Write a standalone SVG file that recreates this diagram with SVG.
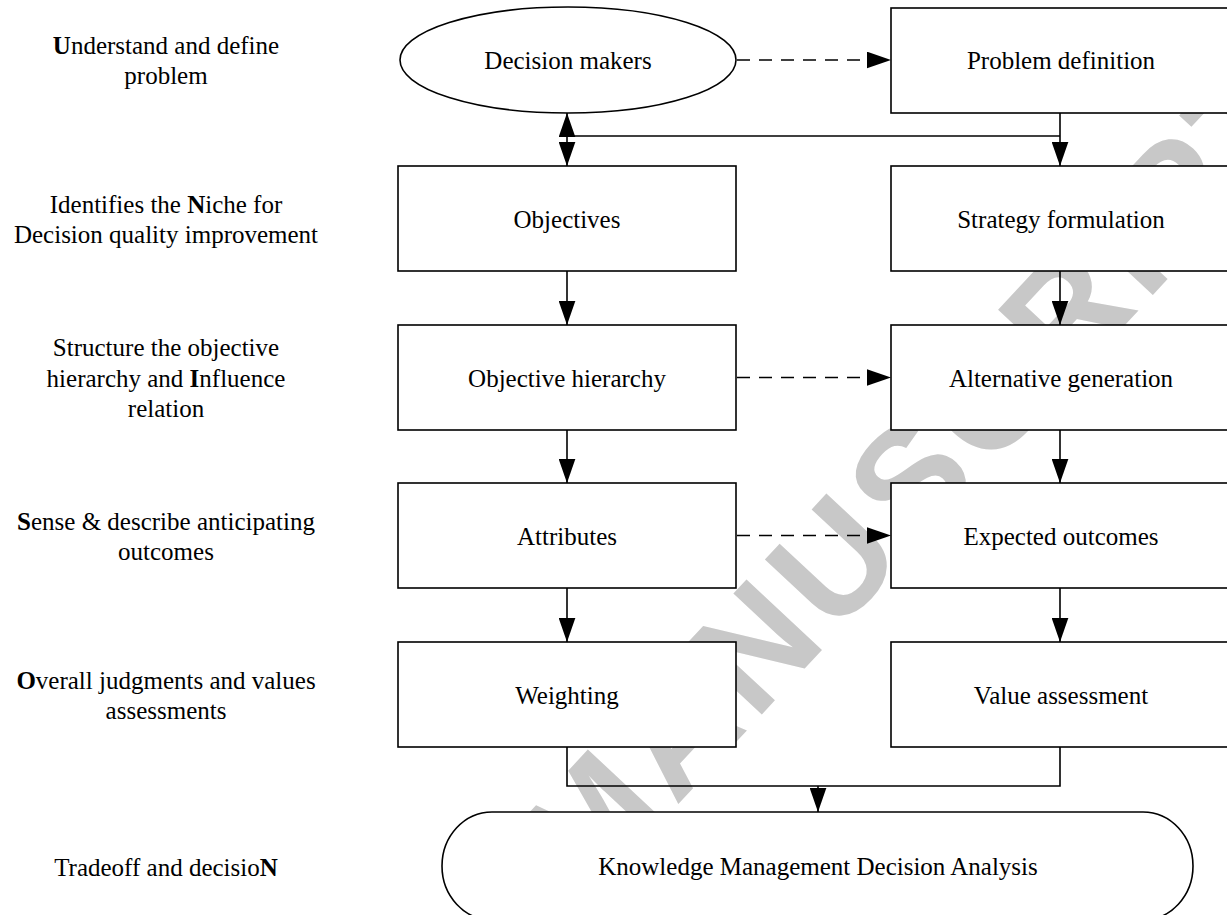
<svg xmlns="http://www.w3.org/2000/svg" width="1227" height="915" viewBox="0 0 1227 915">
<style>
.bg{fill:#ffffff}
.wm{fill:#c8c8c8;font-family:"Liberation Sans",Arial,sans-serif;font-weight:bold;font-size:150px;letter-spacing:8px}
.shape{fill:#ffffff;stroke:#000000;stroke-width:1.6}
.t{font-family:"Liberation Serif","Times New Roman",serif;font-size:25px;fill:#000000;text-anchor:middle}
.b{font-weight:bold}
.ln{fill:none;stroke:#000000;stroke-width:1.6}
.dash{stroke-dasharray:13 9}
</style>
<defs>
<marker id="ah" markerUnits="userSpaceOnUse" markerWidth="24" markerHeight="17" viewBox="0 0 23 16" refX="23" refY="8" orient="auto-start-reverse">
<path d="M0,0 L23,8 L0,16 Z" fill="#000000"/>
</marker>
</defs>
<rect class="bg" x="0" y="0" width="1227" height="915"/>
<text class="wm" transform="translate(585,904) rotate(-47)">MANUSCRIPT</text>

<g id="labels">
<text class="t" x="166" y="54"><tspan class="b">U</tspan>nderstand and define</text>
<text class="t" x="166" y="84">problem</text>
<text class="t" x="166" y="213">Identifies the <tspan class="b">N</tspan>iche for</text>
<text class="t" x="166" y="243">Decision quality improvement</text>
<text class="t" x="166" y="356">Structure the objective</text>
<text class="t" x="166" y="386.5">hierarchy and <tspan class="b">I</tspan>nfluence</text>
<text class="t" x="166" y="417">relation</text>
<text class="t" x="166" y="530"><tspan class="b">S</tspan>ense &amp; describe anticipating</text>
<text class="t" x="166" y="560">outcomes</text>
<text class="t" x="166" y="689"><tspan class="b">O</tspan>verall judgments and values</text>
<text class="t" x="166" y="719">assessments</text>
<text class="t" x="166" y="876">Tradeoff and decisio<tspan class="b">N</tspan></text>
</g>

<g id="connectors">
<line class="ln dash" x1="737" y1="60" x2="891" y2="60" marker-end="url(#ah)"/>
<line class="ln" x1="567" y1="113" x2="567" y2="166" marker-start="url(#ah)" marker-end="url(#ah)"/>
<polyline class="ln" points="567,136 1060,136"/>
<line class="ln" x1="1060" y1="113" x2="1060" y2="166" marker-end="url(#ah)"/>
<line class="ln" x1="567" y1="271" x2="567" y2="325" marker-end="url(#ah)"/>
<line class="ln" x1="1060" y1="271" x2="1060" y2="325" marker-end="url(#ah)"/>
<line class="ln" x1="567" y1="430" x2="567" y2="483" marker-end="url(#ah)"/>
<line class="ln" x1="1060" y1="430" x2="1060" y2="483" marker-end="url(#ah)"/>
<line class="ln" x1="567" y1="588" x2="567" y2="642" marker-end="url(#ah)"/>
<line class="ln" x1="1060" y1="588" x2="1060" y2="642" marker-end="url(#ah)"/>
<line class="ln dash" x1="737" y1="377.5" x2="891" y2="377.5" marker-end="url(#ah)"/>
<line class="ln dash" x1="737" y1="535.5" x2="891" y2="535.5" marker-end="url(#ah)"/>
<polyline class="ln" points="567,747 567,786 1060,786 1060,747"/>
<line class="ln" x1="818" y1="786" x2="818" y2="812" marker-end="url(#ah)"/>
</g>

<g id="decision-makers">
<ellipse class="shape" cx="568" cy="60" rx="168" ry="53"/>
<text class="t" x="568" y="69">Decision makers</text>
</g>
<g id="problem-definition">
<rect class="shape" x="891" y="8" width="340" height="105"/>
<text class="t" x="1061" y="69">Problem definition</text>
</g>
<g id="objectives">
<rect class="shape" x="398" y="166" width="338" height="105"/>
<text class="t" x="567" y="227.5">Objectives</text>
</g>
<g id="strategy-formulation">
<rect class="shape" x="891" y="166" width="340" height="105"/>
<text class="t" x="1061" y="227.5">Strategy formulation</text>
</g>
<g id="objective-hierarchy">
<rect class="shape" x="398" y="325" width="338" height="105"/>
<text class="t" x="567" y="386.5">Objective hierarchy</text>
</g>
<g id="alternative-generation">
<rect class="shape" x="891" y="325" width="340" height="105"/>
<text class="t" x="1061" y="386.5">Alternative generation</text>
</g>
<g id="attributes">
<rect class="shape" x="398" y="483" width="338" height="105"/>
<text class="t" x="567" y="544.5">Attributes</text>
</g>
<g id="expected-outcomes">
<rect class="shape" x="891" y="483" width="340" height="105"/>
<text class="t" x="1061" y="544.5">Expected outcomes</text>
</g>
<g id="weighting">
<rect class="shape" x="398" y="642" width="338" height="105"/>
<text class="t" x="567" y="703.5">Weighting</text>
</g>
<g id="value-assessment">
<rect class="shape" x="891" y="642" width="340" height="105"/>
<text class="t" x="1061" y="703.5">Value assessment</text>
</g>
<g id="km-decision-analysis">
<path class="shape" d="M492,812 H1143 A50,54 0 0 1 1143,920 H492 A50,54 0 0 1 492,812 Z"/>
<text class="t" x="818" y="875">Knowledge Management Decision Analysis</text>
</g>
</svg>
